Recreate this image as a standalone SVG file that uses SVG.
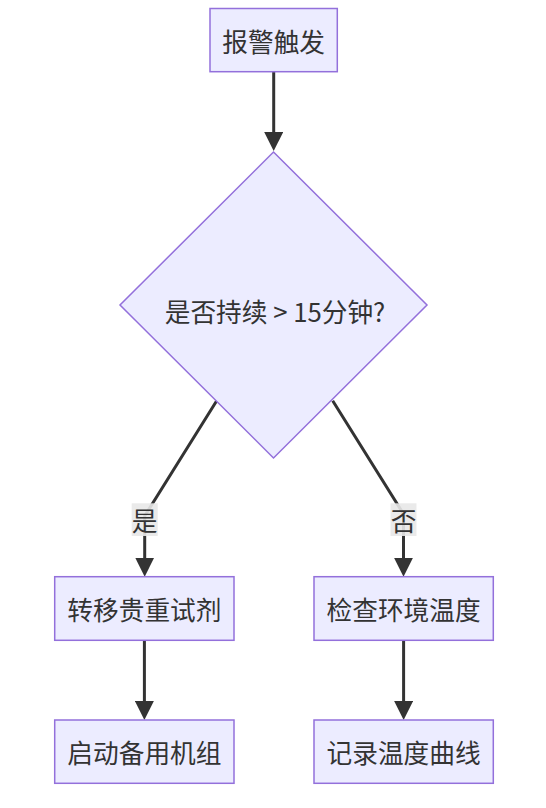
<svg xmlns="http://www.w3.org/2000/svg" width="546" height="808" viewBox="0 0 546 808">
<defs>
<marker id="arrow" viewBox="0 0 10 10" refX="5" refY="5" markerUnits="userSpaceOnUse" markerWidth="19" markerHeight="19" orient="auto">
<path d="M0,0 L10,5 L0,10 z" fill="#333333"/>
</marker>
<style>
.node rect, .node polygon { fill: #ECECFF; stroke: #9370DB; stroke-width: 1.5; }
.node text, .label text { font-family: "Noto Sans CJK SC", "Noto Sans", sans-serif; font-size: 25.7px; fill: #333333; text-anchor: middle; dominant-baseline: central; }
.edge { fill: none; stroke: #333333; stroke-width: 3; marker-end: url(#arrow); }
.label rect { fill: #e8e8e8; opacity: 0.9; }
</style>
</defs>
<rect width="546" height="808" fill="#ffffff"/>
<g id="connectors">
<path class="edge" d="M273.7,71.7 L273.7,141.5"/>
<path class="edge" d="M216.7,400.7 L144.7,516 L144.7,567.2"/>
<path class="edge" d="M332.7,400.7 L403.5,514 L403.5,567.2"/>
<path class="edge" d="M144.4,640.3 L144.4,710.5"/>
<path class="edge" d="M403.6,640.3 L403.6,710.5"/>
</g>
<g id="label-yes" class="label"><rect x="131.7" y="503.3" width="26" height="32.7"/><text x="144.7" y="519.7">是</text></g>
<g id="label-no" class="label"><rect x="390.5" y="503.3" width="26" height="32.7"/><text x="403.5" y="519.7">否</text></g>
<g id="n-alarm" class="node"><rect x="210" y="8.5" width="127.3" height="63.2"/><text x="273.7" y="40">报警触发</text></g>
<g id="n-decision" class="node"><polygon points="273.5,152 427,305 273.5,458 120,305"/><text x="275" y="310">是否持续 &gt; 15分钟?</text></g>
<g id="n-move" class="node"><rect x="54.7" y="576.7" width="179.3" height="63.6"/><text x="144.4" y="608.5">转移贵重试剂</text></g>
<g id="n-check" class="node"><rect x="314" y="576.7" width="179.3" height="63.6"/><text x="403.6" y="608.5">检查环境温度</text></g>
<g id="n-backup" class="node"><rect x="54.7" y="720" width="179.3" height="63.3"/><text x="144.4" y="751.7">启动备用机组</text></g>
<g id="n-record" class="node"><rect x="314" y="720" width="179.3" height="63.3"/><text x="403.6" y="751.7">记录温度曲线</text></g>
</svg>
